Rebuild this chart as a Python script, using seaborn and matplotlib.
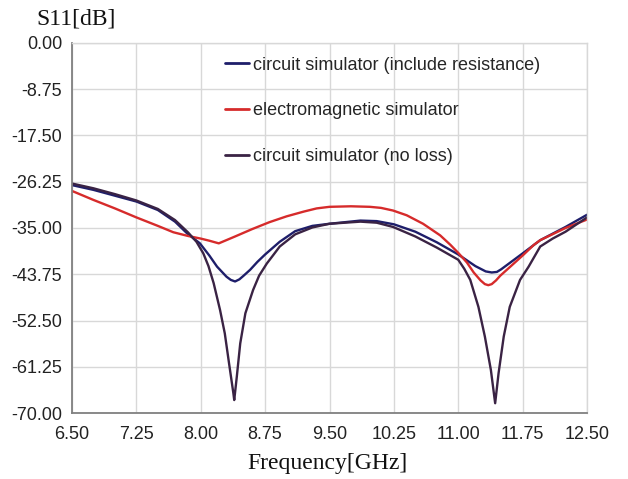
import numpy as np
import pandas as pd
import matplotlib
matplotlib.use("Agg")
import matplotlib.pyplot as plt
import seaborn as sns

# ---- data ----
freq_res = [6.50, 6.75, 7.00, 7.25, 7.50, 7.70, 7.84, 7.99, 8.10, 8.19, 8.30, 8.35, 8.40, 8.45,
            8.50, 8.575, 8.66, 8.75, 8.92, 9.10, 9.30, 9.50, 9.86, 10.05, 10.25, 10.50, 10.75,
            11.00, 11.20, 11.32, 11.39, 11.45, 11.50, 11.60, 11.75, 11.955, 12.25, 12.50]
s11_res = [-26.9, -27.8, -28.9, -30.0, -31.6, -33.8, -36.0, -37.9, -40.2, -42.3, -44.2, -44.8, -45.1, -44.7,
           -44.0, -42.9, -41.4, -40.0, -37.6, -35.6, -34.6, -34.2, -33.6, -33.7, -34.3, -35.7, -37.7,
           -40.0, -42.2, -43.2, -43.4, -43.3, -42.8, -41.6, -39.8, -37.3, -34.8, -32.5]

freq_em = [6.50, 6.75, 7.00, 7.25, 7.50, 7.68, 7.85, 8.00, 8.10, 8.21, 8.40, 8.60, 8.80,
           9.00, 9.20, 9.35, 9.50, 9.75, 9.97, 10.10, 10.24, 10.40, 10.59, 10.79, 10.91,
           11.00, 11.10, 11.18, 11.26, 11.31, 11.35, 11.39, 11.44, 11.49, 11.60, 11.75,
           11.88, 11.955, 12.25, 12.50]
s11_em = [-28.0, -29.7, -31.3, -33.0, -34.6, -35.8, -36.5, -37.0, -37.4, -37.9, -36.6, -35.2, -33.9,
          -32.8, -31.9, -31.3, -31.0, -30.9, -31.0, -31.2, -31.7, -32.6, -34.2, -36.4, -38.2,
          -39.7, -41.5, -43.4, -44.9, -45.6, -45.8, -45.6, -44.9, -44.0, -42.4, -40.2,
          -38.2, -37.3, -35.0, -33.4]

freq_nl = [6.50, 6.75, 7.00, 7.25, 7.50, 7.70, 7.85, 7.95, 8.03, 8.09, 8.15, 8.225, 8.28, 8.33,
           8.38, 8.39, 8.42, 8.46, 8.52, 8.61, 8.68, 8.77, 8.85, 8.92, 9.10, 9.30, 9.50, 9.86,
           10.05, 10.24, 10.50, 10.75, 11.00, 11.07, 11.14, 11.235, 11.31, 11.38, 11.43, 11.47,
           11.53, 11.60, 11.72, 11.82, 11.955, 12.10, 12.25, 12.50]
s11_nl = [-26.6, -27.5, -28.6, -29.8, -31.4, -33.5, -35.8, -37.6, -39.8, -42.2, -45.4, -50.5, -54.9, -60.6,
          -66.2, -67.5, -63.1, -56.8, -51.1, -46.7, -44.0, -41.7, -40.0, -38.5, -36.2, -34.9, -34.2, -33.8,
          -34.0, -34.8, -36.6, -38.7, -41.0, -42.7, -44.8, -49.9, -55.5, -61.8, -68.1, -62.4,
          -55.5, -49.9, -44.8, -42.3, -38.5, -37.0, -35.7, -33.0]

labels = ["circuit simulator (include resistance)",
          "electromagnetic simulator",
          "circuit simulator (no loss)"]
colors = ["#1e1e6a", "#d62b2b", "#3a2344"]

xticks = [6.50, 7.25, 8.00, 8.75, 9.50, 10.25, 11.00, 11.75, 12.50]
yticks = [0.00, -8.75, -17.50, -26.25, -35.00, -43.75, -52.50, -61.25, -70.00]

# ---- plot ----
sns.set_style("white")
plt.rcParams['font.family'] = ['Liberation Sans', 'DejaVu Sans']

W, H = 628, 479
fig = plt.figure(figsize=(W / 100, H / 100), dpi=100)
ax = fig.add_axes([72 / W, 1 - 413.3 / H, (587 - 72) / W, (413.3 - 42.7) / H])

series = [(freq_res, s11_res), (freq_em, s11_em), (freq_nl, s11_nl)]
for (fx, fy), lab, col in zip(series, labels, colors):
    df = pd.DataFrame({"f": fx, "s": fy})
    sns.lineplot(data=df, x="f", y="s", ax=ax, color=col, linewidth=1.7,
                 label=lab, sort=False, estimator=None)

ax.set_xlim(6.5, 12.5)
ax.set_ylim(-70, 0)
ax.set_xticks(xticks)
ax.set_yticks(yticks)
ax.set_xticklabels([f"{v:.2f}" for v in xticks])
ax.set_yticklabels([f"{v:.2f}" for v in yticks])
ax.grid(True, color="#d8d8d8", linewidth=1.0)
ax.set_axisbelow(True)
ax.tick_params(axis="both", labelsize=13, colors="#222222", length=5, width=1,
               direction="out")
ax.tick_params(axis="x", color="#808080", pad=4)
ax.tick_params(axis="y", color="#808080", pad=2)
ax.set_xlabel("")
ax.set_ylabel("")
for side in ["left", "bottom"]:
    ax.spines[side].set_color("#808080")
    ax.spines[side].set_linewidth(1.3)
for side in ["top", "right"]:
    ax.spines[side].set_color("#d8d8d8")
    ax.spines[side].set_linewidth(1.0)

leg = ax.legend(loc="upper left", bbox_to_anchor=(225 / W, 1 - 56.5 / H),
                bbox_transform=fig.transFigure, frameon=False, fontsize=13,
                handlelength=1.33, handletextpad=0.22, labelspacing=1.6,
                borderpad=0, borderaxespad=0)
for line in leg.get_lines():
    line.set_linewidth(2.0)

fig.text(36 / W, 1 - 19 / H, "S11[dB]", family="Liberation Serif", fontsize=17,
         ha="left", va="center", color="#111111")
fig.text(327 / W, 1 - 463 / H, "Frequency[GHz]", family="Liberation Serif", fontsize=17,
         ha="center", va="center", color="#111111")

fig.savefig("out.png", dpi=100)
